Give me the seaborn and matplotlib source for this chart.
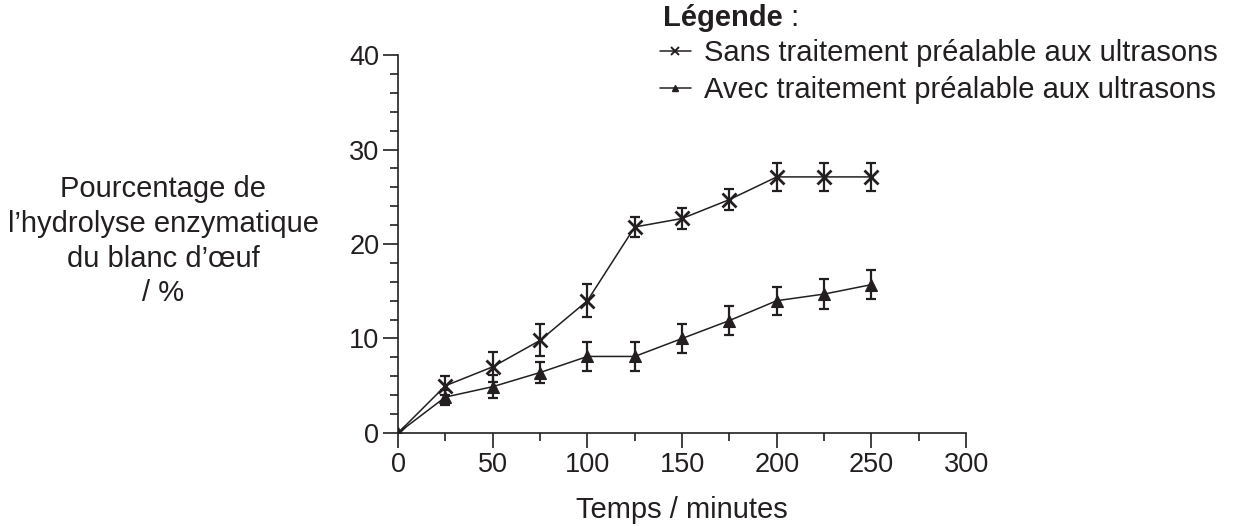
import matplotlib; matplotlib.use("Agg")
import matplotlib.pyplot as plt
import numpy as np
import seaborn as sns
from matplotlib.lines import Line2D
from matplotlib.ticker import MultipleLocator

# ---- données ----
temps = [0, 25, 50, 75, 100, 125, 150, 175, 200, 225, 250]
sans_us = [0, 5.0, 7.0, 9.8, 14.0, 21.8, 22.7, 24.7, 27.1, 27.1, 27.1]
sans_err = [0, 1.0, 1.6, 1.7, 1.75, 1.1, 1.1, 1.1, 1.5, 1.5, 1.5]
avec_us = [0, 3.8, 4.9, 6.4, 8.1, 8.1, 10.0, 11.9, 14.0, 14.7, 15.7]
avec_err = [0, 0.8, 1.2, 1.1, 1.5, 1.5, 1.55, 1.55, 1.5, 1.55, 1.55]
labels = ["Sans traitement préalable aux ultrasons",
          "Avec traitement préalable aux ultrasons"]

INK = "#231f20"
sns.set_theme(style="ticks")
plt.rcParams["font.family"] = ["Liberation Sans", "DejaVu Sans"]
FS = 21; FS_TICK = 19.5

fig = plt.figure(figsize=(12.37, 5.27), dpi=100)
ax = fig.add_axes([0.3218, 0.1784, 0.4592, 0.7172])

# une courbe par série (marqueurs pleins et filaires ne se mélangent pas dans seaborn)
for y, e, mk, ms in ((sans_us, sans_err, "x", 10), (avec_us, avec_err, "^", 8)):
    sns.lineplot(x=temps, y=y, color=INK, marker=mk, markersize=ms,
                 markeredgewidth=2 if mk == "x" else 0.8, markeredgecolor=INK,
                 linewidth=1.1, ax=ax)
    ax.errorbar(temps[1:], y[1:], yerr=e[1:], fmt="none", ecolor=INK,
                elinewidth=1.6, capsize=3.8, capthick=1.6)

ax.set_xlim(0, 300); ax.set_ylim(0, 40)
ax.xaxis.set_major_locator(MultipleLocator(50)); ax.xaxis.set_minor_locator(MultipleLocator(25))
ax.yaxis.set_major_locator(MultipleLocator(10)); ax.yaxis.set_minor_locator(MultipleLocator(2))
ax.tick_params(which="both", direction="out", width=1.2, color=INK,
               labelsize=FS_TICK, labelcolor=INK, pad=3)
ax.tick_params(which="major", length=10.5)
ax.tick_params(which="minor", length=5.8)
sns.despine(ax=ax)
for s in ("left", "bottom"):
    ax.spines[s].set_linewidth(1.2); ax.spines[s].set_color(INK)
ax.patch.set_alpha(0)

ax.set_xlabel("Temps / minutes", fontsize=FS, color=INK, labelpad=13)
ax.set_ylabel("")
fig.text(0.132, 0.542, "Pourcentage de\nl\u2019hydrolyse enzymatique\ndu blanc d\u2019\u0153uf\n/ %",
         ha="center", va="center", fontsize=FS, color=INK, linespacing=1.3)

# ---- légende ----
t1 = fig.text(0.536, 0.966, "Légende", fontsize=FS, fontweight="bold", color=INK,
              ha="left", va="center")
ax.annotate(" :", xy=(1, 0), xycoords=t1, va="bottom", ha="left",
            fontsize=FS, color=INK)
handles = [Line2D([], [], color=INK, lw=1.1, marker="x", markersize=6, markeredgewidth=1.4),
           Line2D([], [], color=INK, lw=1.1, marker="^", markersize=5)]
fig.legend(handles, labels, loc="upper left", bbox_to_anchor=(0.5336, 0.926),
           frameon=False, fontsize=FS, handlelength=1.05, handletextpad=0.45,
           labelspacing=0.3, borderpad=0, borderaxespad=0, labelcolor=INK)

fig.savefig("out.png", dpi=100)
